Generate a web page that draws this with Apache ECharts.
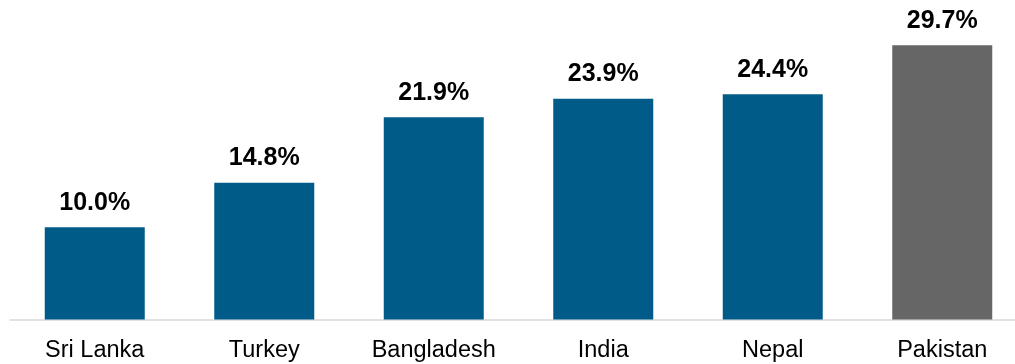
<!DOCTYPE html>
<html>
<head>
<meta charset="utf-8">
<script src="https://cdn.jsdelivr.net/npm/echarts@6/dist/echarts.min.js"></script>
<style>
  html, body { margin: 0; padding: 0; background: #fff; }
  #chart { width: 1015px; height: 364px; }
</style>
</head>
<body>
<div id="chart"></div>
<script>
var countries = ['Sri Lanka', 'Turkey', 'Bangladesh', 'India', 'Nepal', 'Pakistan'];
var shares = [10.0, 14.8, 21.9, 23.9, 24.4, 29.7];
var highlight = 'Pakistan';

document.addEventListener('DOMContentLoaded', function()
{
  var chart = echarts.init(document.getElementById('chart'));

  var barData = shares.map(function(v, i) {
    return {
      value: v,
      itemStyle: { color: countries[i] === highlight ? '#666666' : '#005B88' }
    };
  });

  var option = {
    animation: false,
    grid: { left: 10, width: 1017, top: 42.5, bottom: 44.5, outerBoundsMode: 'none', containLabel: false },
    xAxis: {
      type: 'category',
      data: countries,
      axisLine: { lineStyle: { color: '#d9d9d9', width: 1.5 } },
      axisTick: { show: false },
      axisLabel: {
        color: '#000',
        fontFamily: 'Liberation Sans, Arial, sans-serif',
        fontSize: 23.5,
        margin: 19
      }
    },
    yAxis: {
      type: 'value',
      min: 0,
      max: 30,
      show: false
    },
    series: [{
      type: 'bar',
      data: barData,
      barWidth: 100,
      label: {
        show: true,
        position: 'top',
        distance: 12,
        color: '#000',
        fontFamily: 'Liberation Sans, Arial, sans-serif',
        fontWeight: 'bold',
        fontSize: 25,
        formatter: function(p) { return p.value.toFixed(1) + '%'; }
      }
    }]
  };

  chart.setOption(option);
});
</script>
</body>
</html>
